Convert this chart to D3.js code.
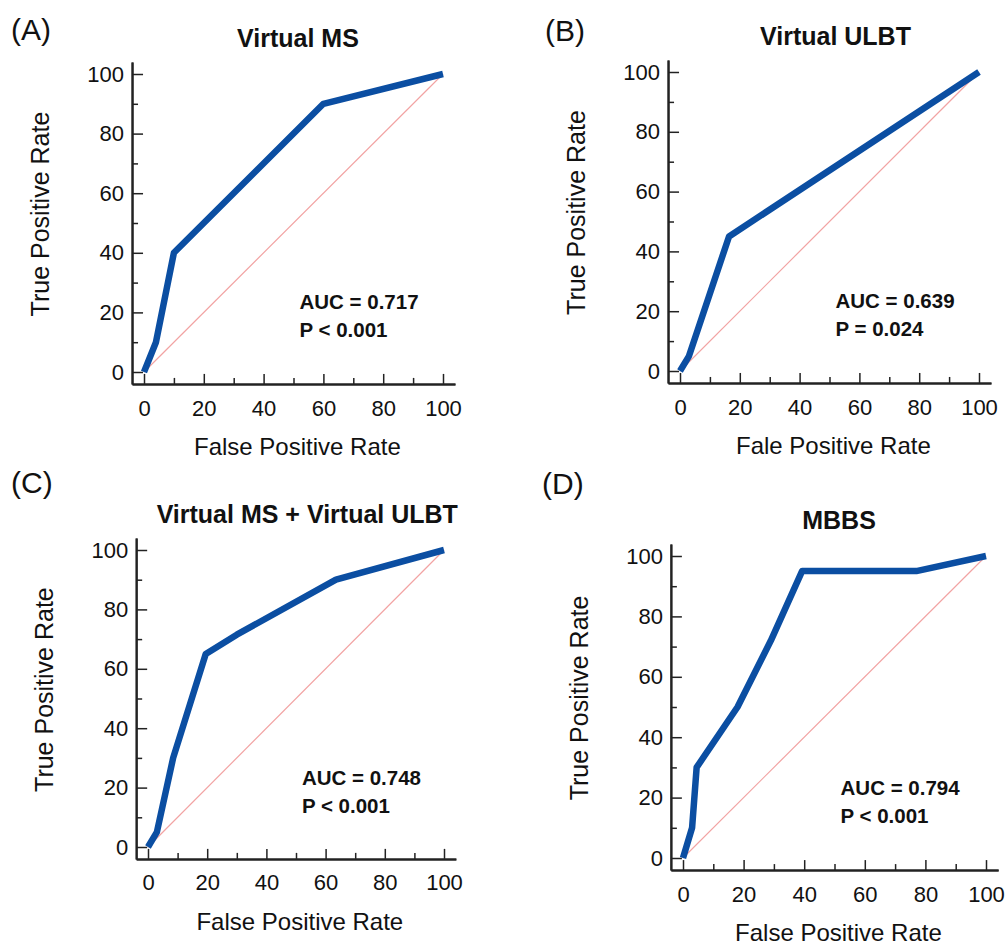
<!DOCTYPE html>
<html>
<head>
<meta charset="utf-8">
<script src="https://cdnjs.cloudflare.com/ajax/libs/d3/7.8.5/d3.min.js"></script>
<style>
  body { margin: 0; background: #fff; }
  svg text { font-family: "Liberation Sans", Arial, sans-serif; fill: #111; }
</style>
</head>
<body>
<div class="roc"></div>
<script>
var svgWidth = 1008;
var svgHeight = 946;

// ROC points (false positive %, true positive %)
var msFpr = [0, 4, 10, 60, 100];
var msTpr = [0, 10, 40, 90, 100];

var ulbtFpr = [0, 3, 16.4, 100];
var ulbtTpr = [0, 5, 45, 100];

var comboFpr = [0, 3, 8.5, 19.5, 30, 63.5, 100];
var comboTpr = [0, 5, 30, 65, 71.5, 90, 100];

var mbbsFpr = [0, 3, 4.5, 18, 29, 39.3, 77, 100];
var mbbsTpr = [0, 10, 30, 50, 72, 95, 95, 100];

var panelLetters = ["(A)", "(B)", "(C)", "(D)"];
var panelTitles = ["Virtual MS", "Virtual ULBT", "Virtual MS + Virtual ULBT", "MBBS"];
var xTitles = ["False Positive Rate", "Fale Positive Rate", "False Positive Rate", "False Positive Rate"];
var aucLabels = ["AUC = 0.717", "AUC = 0.639", "AUC = 0.748", "AUC = 0.794"];
var pLabels = ["P < 0.001", "P = 0.024", "P < 0.001", "P < 0.001"];

var majorTicks = [0, 20, 40, 60, 80, 100];
var minorTicks = [10, 30, 50, 70, 90];

var panelFpr = [msFpr, ulbtFpr, comboFpr, mbbsFpr];
var panelTpr = [msTpr, ulbtTpr, comboTpr, mbbsTpr];

// pixel of value 0 and value 100 on each axis, per panel
var layout = [
  { x0: 144, x100: 443, y0: 372, y100: 74, lx: 11, ly: 40, tx: 51.5 },
  { x0: 680, x100: 979, y0: 371, y100: 72, lx: 545, ly: 41, tx: 52 },
  { x0: 148, x100: 444, y0: 847, y100: 550, lx: 11, ly: 493, tx: 53.8 },
  { x0: 683, x100: 986, y0: 858, y100: 556, lx: 542, ly: 494, tx: 51.5 }
];

var svg = d3
  .select(".roc")
  .append("svg")
  .attr("width", svgWidth)
  .attr("height", svgHeight);

function drawPanel(i) {
  var L = layout[i];
  var kx = (L.x100 - L.x0) / 100;
  var ky = (L.y0 - L.y100) / 100;

  var xScale = d3.scaleLinear()
    .domain([-4, 104])
    .range([L.x0 - 4 * kx, L.x0 + 104 * kx]);
  var yScale = d3.scaleLinear()
    .domain([-4, 104])
    .range([L.y0 + 4 * ky, L.y0 - 104 * ky]);

  var g = svg.append("g");

  // minor ticks first, then major ticks with labels
  var xMinor = d3.axisBottom(xScale).tickValues(minorTicks).tickSizeInner(-6).tickSizeOuter(0).tickFormat("");
  var xMajor = d3.axisBottom(xScale).tickValues(majorTicks).tickSizeInner(-10).tickSizeOuter(0).tickPadding(16);
  var yMinor = d3.axisLeft(yScale).tickValues(minorTicks).tickSizeInner(-6).tickSizeOuter(0).tickFormat("");
  var yMajor = d3.axisLeft(yScale).tickValues(majorTicks).tickSizeInner(-11).tickSizeOuter(0).tickPadding(8);

  var axisY = yScale(-4);
  var axisX = xScale(-4);

  [xMinor, xMajor].forEach(function(ax) {
    g.append("g")
      .attr("transform", `translate(0, ${axisY})`)
      .call(ax);
  });
  [yMinor, yMajor].forEach(function(ax) {
    g.append("g")
      .attr("transform", `translate(${axisX}, 0)`)
      .call(ax);
  });

  g.selectAll(".domain").attr("stroke", "#222").attr("stroke-width", 2);
  g.selectAll(".tick line").attr("stroke", "#222").attr("stroke-width", 1.5);
  g.selectAll(".tick text")
    .attr("font-size", "22px")
    .attr("fill", "#111")
    .style("font-family", '"Liberation Sans", Arial, sans-serif');

  // chance diagonal
  g.append("line")
    .attr("x1", xScale(0)).attr("y1", yScale(0))
    .attr("x2", xScale(100)).attr("y2", yScale(100))
    .attr("stroke", "#f2a3a3")
    .attr("stroke-width", 1.2);

  // ROC curve
  var pts = panelFpr[i].map(function(d, j) { return [d, panelTpr[i][j]]; });
  var line = d3.line()
    .x(d => xScale(d[0]))
    .y(d => yScale(d[1]));
  g.append("path")
    .datum(pts)
    .attr("d", line)
    .attr("fill", "none")
    .attr("stroke", "#0b4ea2")
    .attr("stroke-width", 6.5)
    .attr("stroke-linejoin", "round");

  // panel letter
  g.append("text")
    .attr("x", L.lx)
    .attr("y", L.ly)
    .attr("font-size", "30px")
    .text(panelLetters[i]);

  // title
  g.append("text")
    .attr("x", xScale(L.tx))
    .attr("y", yScale(100) - 27)
    .attr("text-anchor", "middle")
    .attr("font-size", "25px")
    .attr("font-weight", "bold")
    .text(panelTitles[i]);

  // y axis title
  g.append("text")
    .attr("transform", `translate(${xScale(0) - 95}, ${yScale(53)}) rotate(-90)`)
    .attr("text-anchor", "middle")
    .attr("font-size", "25px")
    .text("True Positive Rate");

  // x axis title
  g.append("text")
    .attr("x", xScale(51.3))
    .attr("y", yScale(0) + 83)
    .attr("text-anchor", "middle")
    .attr("font-size", "24px")
    .text(xTitles[i]);

  // AUC annotation
  var ax0 = xScale(52);
  var ay0 = yScale(21);
  g.append("text")
    .attr("x", ax0).attr("y", ay0)
    .attr("font-size", "20.5px")
    .attr("font-weight", "bold")
    .text(aucLabels[i]);
  g.append("text")
    .attr("x", ax0).attr("y", ay0 + 28)
    .attr("font-size", "20.5px")
    .attr("font-weight", "bold")
    .text(pLabels[i]);
}

for (var i = 0; i < 4; i++) {
  drawPanel(i);
}
</script>
</body>
</html>
